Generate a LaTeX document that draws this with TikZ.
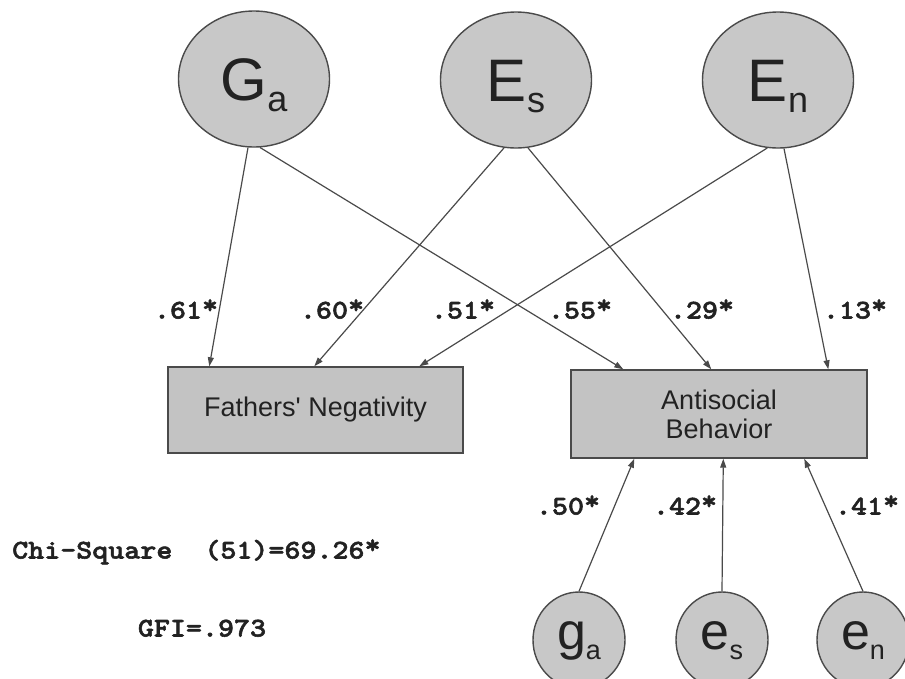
\documentclass[tikz,border=0pt]{standalone}
\usepackage{fontspec}
\setmainfont{Liberation Sans}
\newfontfamily\cour{lmmonolt10-bold.otf}[FakeStretch=1.13,FakeBold=2]
\usetikzlibrary{arrows.meta,shapes.geometric,calc}
\definecolor{fillgray}{HTML}{C8C8C8}
\definecolor{boxgray}{HTML}{C3C3C3}
\definecolor{linegray}{HTML}{4A4A4A}
\definecolor{inkgray}{HTML}{222222}
\newcommand\BigLat[2]{{\fontsize{60}{60}\selectfont #1}\raisebox{-11pt}{\fontsize{36}{36}\selectfont #2}}
\newcommand\SmallLat[2]{{\fontsize{52}{52}\selectfont #1}\raisebox{-10pt}{\fontsize{27}{27}\selectfont #2}}
\newcommand\hiast{\raisebox{5pt}{*}}
\begin{document}
\begin{tikzpicture}[x=1pt,y=-1pt,
  bigell/.style={ellipse, draw=linegray, line width=1.4pt, fill=fillgray, text=inkgray,
    minimum width=151pt, minimum height=136pt, inner sep=0pt, text height=42pt, text depth=0pt},
  smallell/.style={ellipse, draw=linegray, line width=1.4pt, fill=fillgray, text=inkgray,
    minimum width=92pt, minimum height=96pt, inner sep=0pt, text height=18pt, text depth=0pt},
  boxnode/.style={rectangle, draw=linegray, line width=1.4pt, fill=boxgray, text=inkgray,
    inner sep=0pt, font=\fontsize{27}{29}\selectfont, align=center},
  coef/.style={font=\cour\fontsize{27}{27}\selectfont, inner sep=0pt, text=inkgray,
    text height=17pt, text depth=0pt},
  link/.style={draw=linegray, line width=1.2pt, -{Triangle[length=9pt,width=6pt]}}
]
\useasboundingbox (0,0) rectangle (905,678);

% latent factors
\node[bigell] (Ga) at (254,79) {\BigLat{G}{a}};
\node[bigell] (Es) at (516,80) {\BigLat{E}{s}};
\node[bigell] (En) at (778,80) {\BigLat{E}{n}};

% observed variables
\node[boxnode, minimum width=295pt, minimum height=86pt] (FN) at (315.5,410) {Fathers\textquotesingle{} Negativity};
\node[boxnode, minimum width=296pt, minimum height=88pt] (AB) at (719,414) {Antisocial\\Behavior};

% residual factors
\node[smallell] (ga) at (579,640) {\SmallLat{g}{a}};
\node[smallell] (es) at (722,640) {\SmallLat{e}{s}};
\node[smallell] (en) at (863,640) {\SmallLat{e}{n}};

% paths from latent factors
\draw[link] (Ga.-95) -- ($(FN.north west)+(42,0)$);
\draw[link] (Ga.-85) -- ($(AB.north west)+(53,0)$);
\draw[link] (Es.-100) -- ($(FN.north west)+(147,0)$);
\draw[link] (Es.-80) -- ($(AB.north west)+(141,0)$);
\draw[link] (En.-99) -- ($(FN.north west)+(252,0)$);
\draw[link] (En.-85) -- ($(AB.north west)+(258,0)$);

% paths from residual factors
\draw[link] (ga.north) -- ($(AB.south west)+(64,0)$);
\draw[link] (es.north) -- ($(AB.south west)+(153,0)$);
\draw[link] (en.north) -- ($(AB.south west)+(234,0)$);

% coefficients
\node[coef] (c61) at (186,310) {.61\hiast};
\node[coef] (c60) at (332,310) {.60\hiast};
\node[coef] (c51) at (463,310) {.51\hiast};
\node[coef] (c55) at (580,310) {.55\hiast};
\node[coef] (c29) at (702,310) {.29\hiast};
\node[coef] (c13) at (855,310) {.13\hiast};
\node[coef] (c50) at (568,506) {.50\hiast};
\node[coef] (c42) at (685,506) {.42\hiast};
\node[coef] (c41) at (867,506) {.41\hiast};

% fit statistics
\node[coef, anchor=west] (chi) at (12,550) {Chi-Square\ \ (51)=69.26\hiast};
\node[coef] (gfi) at (202,628) {GFI=.973};
\end{tikzpicture}
\end{document}
